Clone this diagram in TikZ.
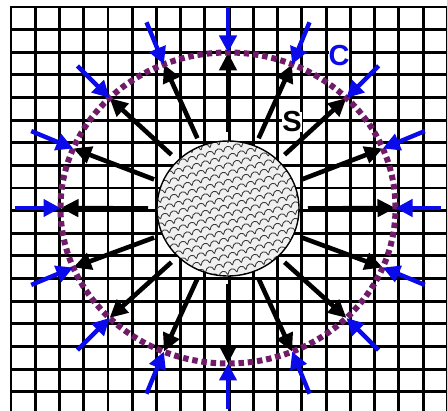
\documentclass[tikz,border=0pt]{standalone}
\usepackage{fontspec}
\setmainfont{Liberation Sans}
\usetikzlibrary{arrows.meta}
\definecolor{cblue}{RGB}{10,10,235}
\definecolor{cpurple}{RGB}{112,28,104}
\definecolor{hatchfill}{RGB}{240,240,240}
\definecolor{hatchline}{RGB}{55,55,55}
\begin{document}
\begin{tikzpicture}[x=1pt,y=-1pt,
  gridline/.style={line width=2.9pt, black, line cap=rect},
  outarrow/.style={line width=4.6pt, black, -{Triangle[length=18pt,width=17pt]}},
  inarrow/.style={line width=4.4pt, cblue, -{Triangle[length=17pt,width=17pt]}},
  dotcircle/.style={line width=6pt, cpurple, dash pattern=on 5.5pt off 3.8pt},
  scalestroke/.style={hatchline, line width=0.85pt},
  lbl/.style={font=\bfseries\fontsize{29}{29}\selectfont, fill=white, inner sep=0pt}]
\useasboundingbox (0,0) rectangle (447,411);
\fill[white] (0,0) rectangle (447,411);
% grid
\foreach \i in {0,...,18} \draw[gridline] ({11+24.24*\i},7) -- ({11+24.24*\i},420);
\foreach \j in {0,...,17} \draw[gridline] (11,{7+22.63*\j}) -- (455,{7+22.63*\j});
% inner hatched disc
\fill[hatchfill] (228,208.5) ellipse [x radius=71pt, y radius=67.5pt];
\begin{scope}
  \clip (228,208.5) ellipse [x radius=71pt, y radius=67.5pt];
  \foreach \j in {-15,...,15} {
    \foreach \i in {-17,...,17} {
      \pgfmathsetmacro\px{228+9*\i+4.5*\j}
      \pgfmathsetmacro\py{208.5+7*\j-2.5*\i}
      \draw[scalestroke] (\px,\py) .. controls (\px+0.5,\py-6) and (\px+6,\py-8) .. (\px+9,\py-2.5);
    }
  }
\end{scope}
\draw[line width=1.4pt] (228,208.5) ellipse [x radius=71pt, y radius=67.5pt];
% arrows
\foreach \k in {0,...,15} {
  \pgfmathsetmacro\a{22.5*\k}
  \coordinate (s\k) at ({228+80*cos(\a)},{208.5-76*sin(\a)});
  \coordinate (c\k) at ({228+167.5*cos(\a)},{208-155.5*sin(\a)});
  \coordinate (b\k) at ({228+213*cos(\a)},{208-201*sin(\a)});
  \draw[outarrow] (s\k) -- (c\k);
}
\draw[dotcircle] (228,208) ellipse [x radius=167.5pt, y radius=155.5pt];
\foreach \k in {0,...,15} {
  \draw[inarrow] (b\k) -- (c\k);
}
\node[lbl, text=cblue] (lc) at (339,56) {C};
\node[lbl, text=black] (ls) at (292,122) {S};
\end{tikzpicture}
\end{document}
